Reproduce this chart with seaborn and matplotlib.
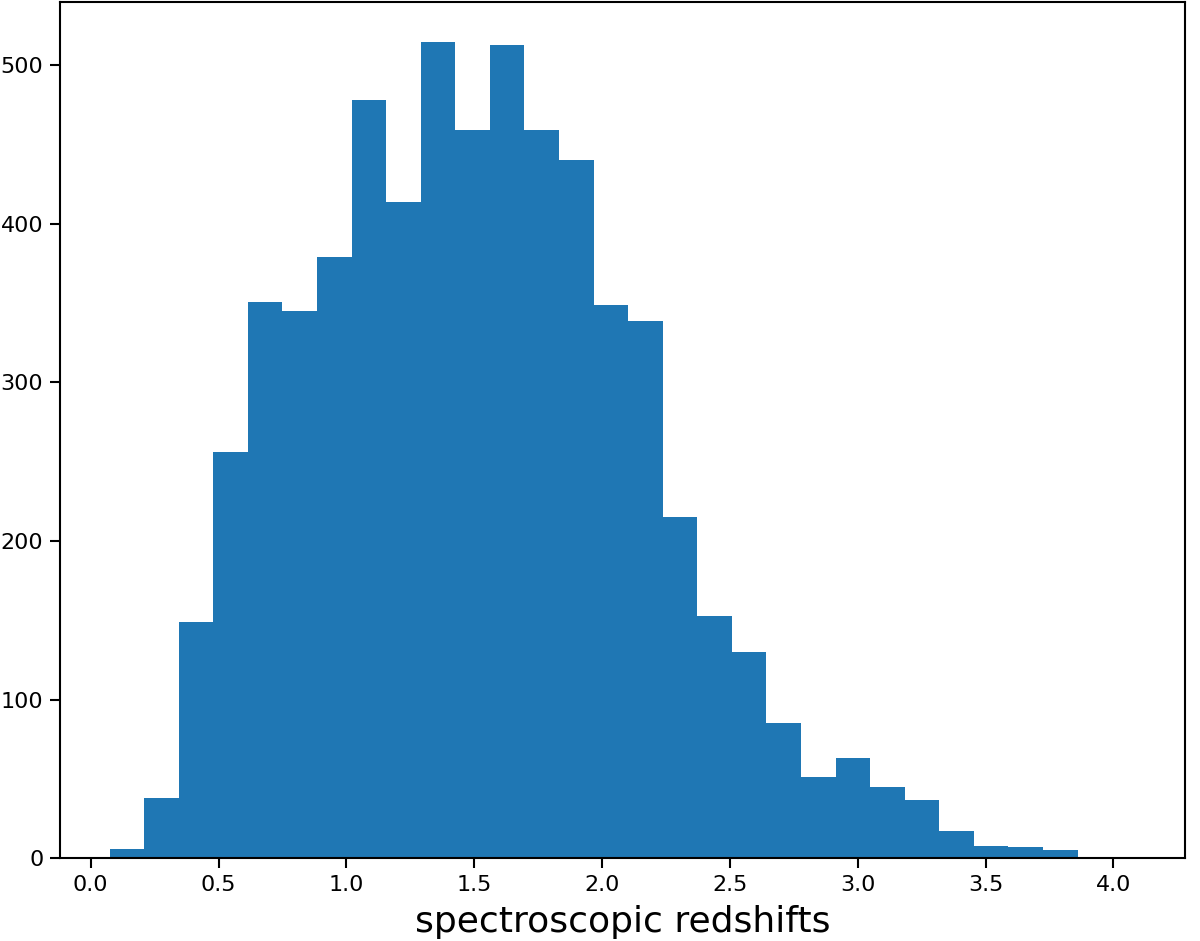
import numpy as np
import pandas as pd
import seaborn as sns
import matplotlib
matplotlib.use("Agg")
import matplotlib.pyplot as plt

# histogram of spectroscopic redshifts, 30 bins
z_lo = 0.074
z_hi = 4.13
counts = [6, 38, 149, 256, 351, 345, 379, 478, 414, 515,
          459, 513, 459, 440, 349, 339, 215, 153, 130, 85,
          51, 63, 45, 37, 17, 8, 7, 5, 0, 1]

nbins = len(counts)
edges = np.linspace(z_lo, z_hi, nbins + 1)
centers = (edges[:-1] + edges[1:]) / 2
df = pd.DataFrame({'z': centers, 'n': counts})

plt.rcParams['font.family'] = ['DejaVu Sans']
fig = plt.figure(figsize=(12, 9.41), dpi=100)
ax = fig.add_axes([0.05, 0.088, 0.9375, 0.91])

sns.histplot(data=df, x='z', weights='n', bins=nbins, binrange=(z_lo, z_hi),
             ax=ax, color='#1f77b4', alpha=1, linewidth=0, element='bars')

ax.set_xlim(-0.12, 4.28)
ax.set_ylim(0, 540)
ax.set_xticks(np.arange(0, 4.01, 0.5))
ax.set_yticks([0, 100, 200, 300, 400, 500])
ax.set_xlabel('spectroscopic redshifts', fontsize=26, labelpad=7)
ax.set_ylabel('')
ax.tick_params(labelsize=16, length=7, width=1.5, pad=5)
for s in ax.spines.values():
    s.set_linewidth(1.5)

fig.savefig('out.png', dpi=100)
plt.close()
